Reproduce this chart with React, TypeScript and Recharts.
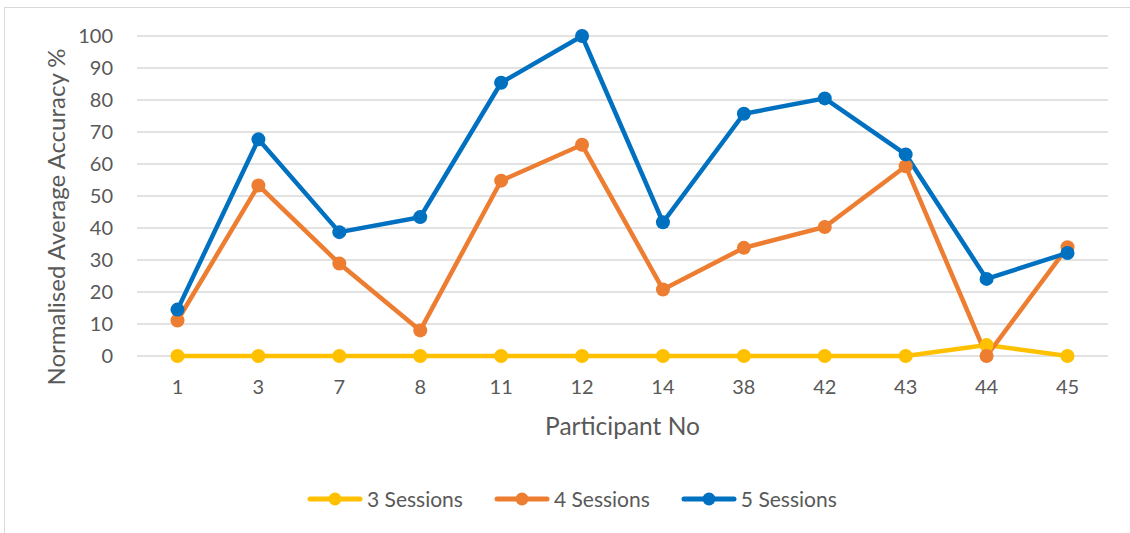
import { LineChart, Line, XAxis, YAxis, CartesianGrid, Legend } from "recharts";

const participants = ["1", "3", "7", "8", "11", "12", "14", "38", "42", "43", "44", "45"];
const sessions3 = [0, 0, 0, 0, 0, 0, 0, 0, 0, 0, 3.4, 0];
const sessions4 = [11.1, 53.3, 28.9, 8.0, 54.8, 66.0, 20.8, 33.8, 40.3, 59.3, 0, 34.0];
const sessions5 = [14.5, 67.7, 38.7, 43.4, 85.4, 100, 41.8, 75.7, 80.5, 63.0, 24.1, 32.2];
const yTicks = [0, 10, 20, 30, 40, 50, 60, 70, 80, 90, 100];

const seriesInfo = [
  { key: "s3", name: "3 Sessions", color: "#FFC000" },
  { key: "s4", name: "4 Sessions", color: "#ED7D31" },
  { key: "s5", name: "5 Sessions", color: "#0070C0" },
];

const data = participants.map((p, i) => ({
  name: p,
  s3: sessions3[i],
  s4: sessions4[i],
  s5: sessions5[i],
}));

const FONT = "Lato, 'Open Sans', sans-serif";
const TEXT = "#595959";

function LegendBox() {
  return (
    <div style={{ display: "flex", alignItems: "center", paddingLeft: 307, fontFamily: FONT, fontSize: 21, color: TEXT }}>
      {seriesInfo.map((s) => (
        <div key={s.key} style={{ display: "flex", alignItems: "center", marginRight: 31 }}>
          <svg width={56} height={16} style={{ marginRight: 4 }}>
            <line x1={3} y1={8} x2={53} y2={8} stroke={s.color} strokeWidth={5} strokeLinecap="round" />
            <circle cx={28} cy={8} r={6.5} fill={s.color} />
          </svg>
          <span>{s.name}</span>
        </div>
      ))}
    </div>
  );
}

export default function App() {
  return (
    <div style={{ position: "absolute", left: 0, top: 0, width: 1130, height: 533, overflow: "hidden", background: "#fff" }}>
      <div style={{ position: "absolute", left: 4, top: 7, width: 1140, height: 540, border: "1px solid #d9d9d9" }} />
      <div style={{ position: "absolute", left: 0, top: 0 }}>
        <LineChart width={1130} height={533} data={data} margin={{ top: 36, right: 22, left: 77, bottom: 147 }}>
          <CartesianGrid vertical={false} stroke="#d9d9d9" strokeWidth={1.3} />
          <XAxis
            dataKey="name"
            axisLine={false}
            tickLine={false}
            tickSize={0}
            tickMargin={24}
            height={30}
            padding={{ left: 40.5, right: 40.5 }}
            tick={{ fill: TEXT, fontSize: 20, fontFamily: FONT }}
            label={() => (
              <text x={622.5} y={435} textAnchor="middle" fill={TEXT} fontSize={24.5} fontFamily={FONT}>
                Participant No
              </text>
            )}
          />
          <YAxis
            domain={[0, 100]}
            ticks={yTicks}
            width={60}
            axisLine={false}
            tickLine={false}
            tickSize={0}
            tickMargin={24}
            tick={{ fill: TEXT, fontSize: 20, fontFamily: FONT }}
            label={() => (
              <text
                x={55}
                y={217}
                transform="rotate(-90, 55, 217)"
                textAnchor="middle"
                dominantBaseline="central"
                fill={TEXT}
                fontSize={24}
                fontFamily={FONT}
              >
                Normalised Average Accuracy %
              </text>
            )}
          />
          <Legend
            verticalAlign="middle"
            align="center"
            wrapperStyle={{ top: 486, left: 0, width: 1130 }}
            content={() => <LegendBox />}
          />
          {seriesInfo.map((s) => (
            <Line
              key={s.key}
              type="linear"
              dataKey={s.key}
              name={s.name}
              stroke={s.color}
              strokeWidth={4.5}
              dot={{ r: 7, fill: s.color, stroke: s.color, strokeWidth: 0 }}
              activeDot={false}
              isAnimationActive={false}
            />
          ))}
        </LineChart>
      </div>
    </div>
  );
}
